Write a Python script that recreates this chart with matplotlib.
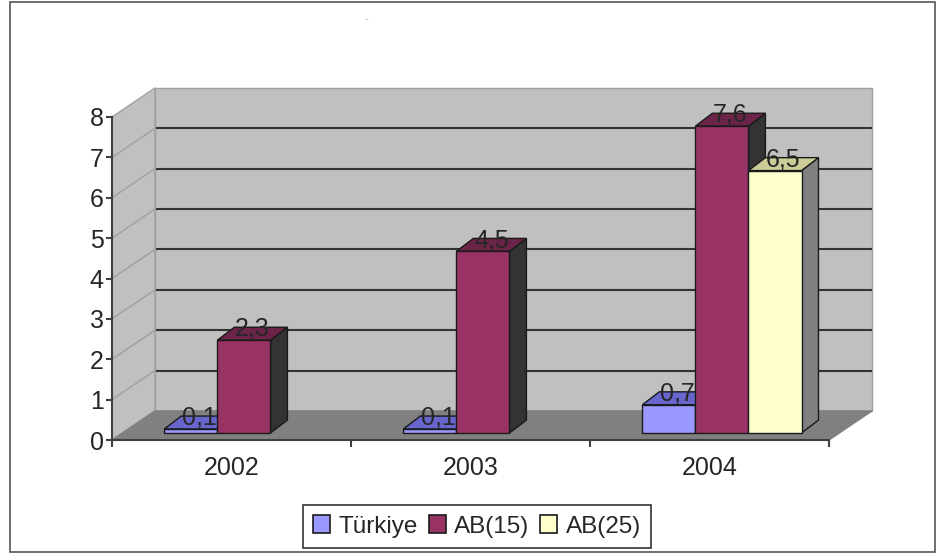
import numpy as np
import matplotlib
matplotlib.use('Agg')
import matplotlib.pyplot as plt
from matplotlib.patches import Polygon, Rectangle

plt.rcParams['font.family'] = ['Liberation Sans', 'DejaVu Sans']

years = ['2002', '2003', '2004']
turkiye = [0.1, 0.1, 0.7]
ab15 = [2.3, 4.5, 7.6]
ab25 = [np.nan, np.nan, 6.5]
value_labels = {0.1: '0,1', 0.7: '0,7', 2.3: '2,3', 4.5: '4,5', 7.6: '7,6', 6.5: '6,5'}

# name, values, front colour, top colour, side colour
series = [
    ('Türkiye', turkiye, '#9999FF', '#6666CC', '#4C4C99'),
    ('AB(15)', ab15, '#993366', '#6B2447', '#333333'),
    ('AB(25)', ab25, '#FFFFCC', '#CCCC99', '#808080'),
]

W, H = 937, 554
text_color = '#262626'
line_color = '#404040'

# depth of the box and of the bars, in data units
wall_dx, wall_dy = 0.18, 0.72
base_dx, base_dy = 0.052, 0.173
bar_dx, bar_dy = 0.071, 0.32
width = 0.222

fig = plt.figure(figsize=(W / 100, H / 100), dpi=100)
fig.patches.append(Rectangle((10 / W, 2.5 / H), 925 / W, 550 / H, transform=fig.transFigure,
                             fc='white', ec='#555555', lw=1.2, zorder=-5))
ax = fig.add_axes([112 / W, (H - 440) / H, 717 / W, 323 / H])
ax.patch.set_visible(False)
ax.set_xlim(0, 3)
ax.set_ylim(0, 8)


def face(points, fc, ec, lw=1.0, z=1):
    ax.add_patch(Polygon(points, closed=True, fc=fc, ec=ec, lw=lw, zorder=z, clip_on=False))


# walls and floor
face([(0, 0), (0, 8), (wall_dx, 8 + wall_dy), (wall_dx, wall_dy)], '#C0C0C0', '#A0A0A0')
face([(wall_dx, wall_dy), (wall_dx, 8 + wall_dy), (3 + wall_dx, 8 + wall_dy), (3 + wall_dx, wall_dy)],
     '#C0C0C0', '#A0A0A0')
face([(0, 0), (3, 0), (3 + wall_dx, wall_dy), (wall_dx, wall_dy)], '#808080', '#808080')

# gridlines on the back wall, with the lighter runs on the left wall
for v in range(1, 8):
    ax.plot([wall_dx + 0.004, 3 + wall_dx], [v + wall_dy, v + wall_dy], color='#333333', lw=1.5,
            zorder=1.5, clip_on=False, solid_capstyle='butt')
for v in range(1, 8):
    ax.plot([0, wall_dx], [v, v + wall_dy], color='#A0A0A0', lw=1.0, zorder=1.5, clip_on=False)

# bars, left to right so each front covers the side of the previous one
x = np.arange(len(years)) + 0.5 + base_dx
labels = []
for i, (name, values, front, top, side) in enumerate(series):
    lefts = x + (i - 1.5) * width
    z = 3 + i
    for left, v in zip(lefts, values):
        if np.isnan(v):
            continue
        y_top = base_dy + v
        right = left + width
        face([(right, base_dy), (right, y_top), (right + bar_dx, y_top + bar_dy),
              (right + bar_dx, base_dy + bar_dy)], side, '#1A1A1A', z=z)
        face([(left, y_top), (right, y_top), (right + bar_dx, y_top + bar_dy),
              (left + bar_dx, y_top + bar_dy)], top, '#1A1A1A', z=z)
        labels.append((left + width / 2 + bar_dx / 2, y_top + bar_dy / 2, value_labels[v]))
    ax.bar(lefts, values, width, bottom=base_dy, align='edge', color=front, edgecolor='#1A1A1A',
           linewidth=1.0, label=name, zorder=z + 0.5, clip_on=False)

for lx, ly, s in labels:
    ax.annotate(s, (lx, ly), xytext=(0, 3.5), textcoords='offset points', ha='center', va='center',
                fontsize=18, color=text_color, zorder=10, annotation_clip=False)

# axes
for name in ['top', 'right']:
    ax.spines[name].set_visible(False)
for name in ['left', 'bottom']:
    ax.spines[name].set_color(line_color)
    ax.spines[name].set_linewidth(1.5)
    ax.spines[name].set_zorder(2)
ax.set_yticks(range(0, 9))
ax.tick_params(axis='y', length=4, width=1.5, color=line_color, labelsize=18, labelcolor=text_color, pad=2)
ax.set_xticks(range(0, 4))
ax.set_xticklabels([])
ax.set_xticks(np.arange(len(years)) + 0.5, labels=years, minor=True)
ax.tick_params(axis='x', which='major', length=5, width=1.5, color=line_color)
ax.tick_params(axis='x', which='minor', length=0, labelsize=18, labelcolor=text_color, pad=11.5)

fig.text(367 / W, (H - 20) / H, '-', fontsize=6, color='#888888', ha='center', va='center')

leg = fig.legend(loc='center', bbox_to_anchor=(477 / W, (H - 526.5) / H), ncols=3, fontsize=17.5,
                 frameon=True, fancybox=False, framealpha=1, edgecolor='#333333',
                 handlelength=0.7, handleheight=0.7, handletextpad=0.35, columnspacing=0.45,
                 borderpad=0.42, borderaxespad=0, labelcolor=text_color)
leg.get_frame().set_linewidth(1.2)
for handle in leg.legend_handles:
    handle.set_linewidth(1.2)

fig.savefig('out.png', dpi=100)
